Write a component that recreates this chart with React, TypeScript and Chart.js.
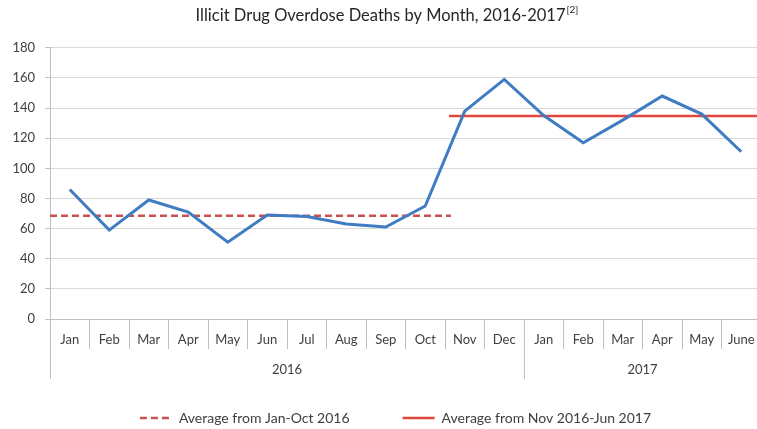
import React, { useEffect, useRef } from "react";
import { Chart, registerables } from "chart.js";

Chart.register(...registerables);

const TITLE = "Illicit Drug Overdose Deaths by Month, 2016-2017";
const TITLE_NOTE = "[2]";
const MONTHS = ["Jan", "Feb", "Mar", "Apr", "May", "Jun", "Jul", "Aug", "Sep", "Oct", "Nov", "Dec", "Jan", "Feb", "Mar", "Apr", "May", "June"];
const DEATHS = [86, 59, 79, 71, 51, 69, 68, 63, 61, 75, 138, 159, 135, 117, 132, 148, 136, 111];
const YEARS = ["2016", "2017"];
const YEAR_CENTERS = [6, 15];
const YEAR_BOUNDS = [0, 12, 18];
const AVG_1_LABEL = "Average from Jan-Oct 2016";
const AVG_1_VALUE = 68.5;
const AVG_1_RANGE = [0, 10.15];
const AVG_2_LABEL = "Average from Nov 2016-Jun 2017";
const AVG_2_VALUE = 134.7;
const AVG_2_RANGE = [10.1, 18];
const Y_TICKS = [0, 20, 40, 60, 80, 100, 120, 140, 160, 180];

const FONT = "Lato, 'Open Sans', sans-serif";
const TEXT = "#404040";
const AXIS = "#bfbfbf";
const TITLE_SIZE = 16.5;

export default function App() {
  const ref = useRef<HTMLCanvasElement>(null);

  useEffect(() => {
    if (!ref.current) return;
    const noteAfterTitle = {
      id: "noteAfterTitle",
      afterDraw(chart: any) {
        const t = chart.titleBlock;
        if (!t) return;
        const ctx = chart.ctx;
        ctx.save();
        ctx.font = `${TITLE_SIZE}px ${FONT}`;
        const w = ctx.measureText(TITLE).width;
        const cx = (t.left + t.right) / 2;
        ctx.font = `10px ${FONT}`;
        ctx.fillStyle = "#262626";
        ctx.textBaseline = "top";
        ctx.textAlign = "left";
        ctx.fillText(TITLE_NOTE, cx + w / 2 + 1, t.top + 5);
        ctx.restore();
      },
    };
    const shiftLegend = {
      id: "shiftLegend",
      afterLayout(chart: any) {
        const l = chart.legend;
        if (!l) return;
        l.left += 15;
        l.right += 15;
      },
    };

    const chart = new Chart(ref.current, {
      type: "line",
      data: {
        labels: MONTHS,
        datasets: [
          {
            label: "Deaths",
            data: DEATHS,
            xAxisID: "x",
            borderColor: "#3f7cc2",
            borderWidth: 3,
            pointRadius: 0,
            tension: 0,
          },
          {
            label: AVG_1_LABEL + "\u2002\u2002\u2002\u2002\u2002",
            data: AVG_1_RANGE.map((x) => ({ x, y: AVG_1_VALUE })),
            xAxisID: "xYear",
            borderColor: "#c9504f",
            borderWidth: 2.5,
            borderDash: [7, 4],
            pointRadius: 0,
          },
          {
            label: AVG_2_LABEL,
            data: AVG_2_RANGE.map((x) => ({ x, y: AVG_2_VALUE })),
            xAxisID: "xYear",
            borderColor: "#e2443e",
            borderWidth: 2.5,
            pointRadius: 0,
          },
        ] as any,
      },
      options: {
        animation: false,
        responsive: false,
        layout: { padding: { top: 0, bottom: 0, left: 0, right: 0 } },
        plugins: {
          title: {
            display: true,
            text: TITLE,
            color: "#262626",
            font: { family: FONT, size: TITLE_SIZE, weight: "normal" },
            padding: { top: 6, bottom: 22 },
          },
          legend: {
            position: "bottom",
            labels: {
              filter: (item: any) => item.datasetIndex !== 0,
              generateLabels: (c: any) =>
                Chart.defaults.plugins.legend.labels.generateLabels(c).map((item: any) => {
                  const ds: any = c.data.datasets[item.datasetIndex];
                  return {
                    ...item,
                    lineDash: ds.borderDash || [],
                    lineWidth: ds.borderWidth,
                    strokeStyle: ds.borderColor,
                    fillStyle: ds.borderColor,
                  };
                }),
              usePointStyle: true,
              pointStyle: "line",
              pointStyleWidth: 32,
              padding: 18,
              color: TEXT,
              font: { family: FONT, size: 14 },
            },
          },
          tooltip: { enabled: false },
        },
        scales: {
          x: {
            type: "category",
            position: "bottom",
            weight: 0,
            offset: true,
            afterFit: (s: any) => {
              s.height = 30;
            },
            grid: {
              offset: true,
              drawOnChartArea: false,
              drawTicks: true,
              tickLength: 30,
              color: AXIS,
            },
            border: { display: true, color: AXIS },
            ticks: {
              autoSkip: false,
              maxRotation: 0,
              padding: -17,
              color: TEXT,
              font: { family: FONT, size: 13 },
            },
          },
          xYear: {
            type: "linear",
            position: "bottom",
            weight: 1,
            min: 0,
            max: 18,
            afterBuildTicks: (s: any) => {
              s.ticks = [...YEAR_BOUNDS, ...YEAR_CENTERS].sort((a, b) => a - b).map((v) => ({ value: v }));
            },
            afterFit: (s: any) => {
              s.height = 44;
            },
            grid: {
              drawOnChartArea: false,
              drawTicks: true,
              tickLength: 30,
              color: (c: any) => (c.tick && YEAR_BOUNDS.includes(c.tick.value) ? AXIS : "rgba(0,0,0,0)"),
            },
            border: { display: false },
            ticks: {
              autoSkip: false,
              maxRotation: 0,
              padding: -17,
              color: TEXT,
              font: { family: FONT, size: 13 },
              callback: (v: any) => {
                const i = YEAR_CENTERS.indexOf(Number(v));
                return i >= 0 ? YEARS[i] : "";
              },
            },
          },
          y: {
            min: 0,
            max: 180,
            afterBuildTicks: (s: any) => {
              s.ticks = Y_TICKS.map((v) => ({ value: v }));
            },
            afterFit: (s: any) => {
              s.width = 50;
            },
            grid: { color: "#d9d9d9", tickLength: 5, tickColor: AXIS },
            border: { display: true, color: AXIS },
            ticks: {
              padding: 10,
              color: TEXT,
              font: { family: FONT, size: 13 },
            },
          },
        },
      } as any,
      plugins: [noteAfterTitle, shiftLegend],
    });
    return () => chart.destroy();
  }, []);

  return (
    <div style={{ position: "fixed", left: 0, top: 0, width: 757, height: 429, overflow: "hidden", background: "#fff" }}>
      <canvas ref={ref} width={761} height={435} style={{ display: "block" }} />
    </div>
  );
}
